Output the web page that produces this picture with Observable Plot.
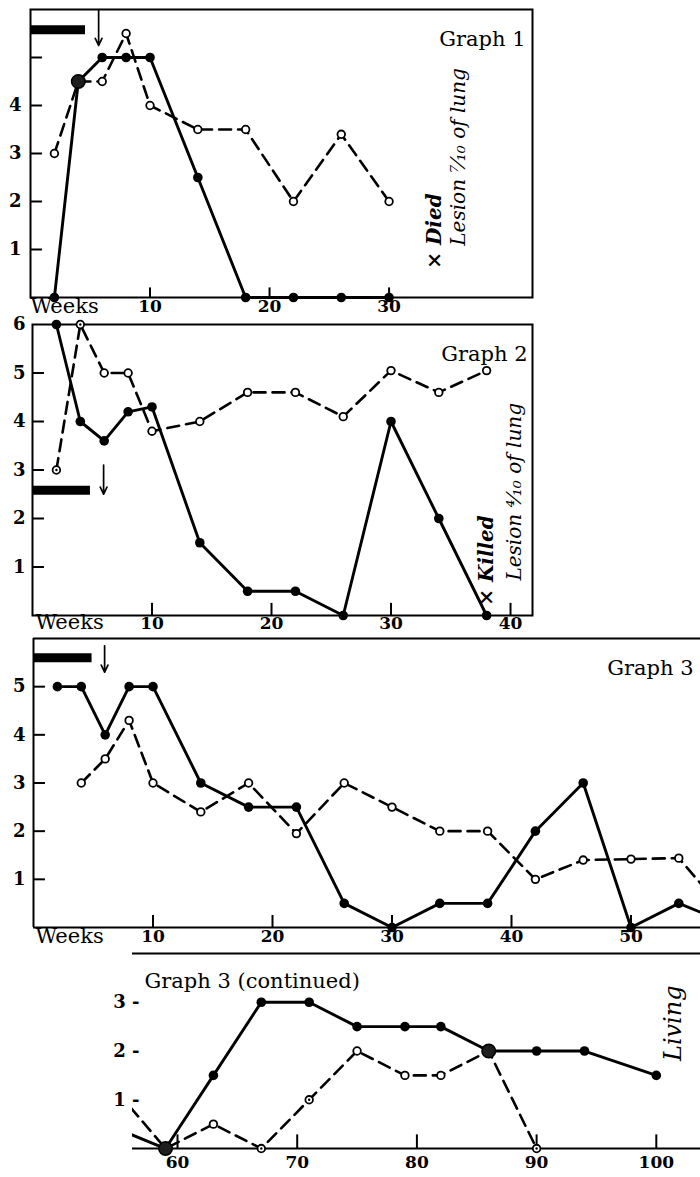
<!DOCTYPE html>
<html><head><meta charset="utf-8">
<script src="https://cdn.jsdelivr.net/npm/d3@7"></script>
<script src="https://cdn.jsdelivr.net/npm/@observablehq/plot@0.6"></script>
<style>
html,body{margin:0;padding:0;background:#fff;}
#fig{position:relative;width:700px;height:1177px;overflow:hidden;background:#fff;}
</style></head><body><div id="fig"></div>
<script>
// ---------------- data ----------------
// Graph 1
const g1Weeks = [2,4,6,8,10,14,18,22,26,30];
const g1Solid = [0,4.5,5,5,5,2.5,0,0,0,0];
const g1Open  = [3,4.5,4.5,5.5,4,3.5,3.5,2,3.4,2];
// Graph 2
const g2Weeks = [2,4,6,8,10,14,18,22,26,30,34,38];
const g2Solid = [6,4,3.6,4.2,4.3,1.5,0.5,0.5,0,4,2,0];
const g2Open  = [3,6,5,5,3.8,4,4.6,4.6,4.1,5.05,4.6,5.05];
const g2Dotted = [2,4];
// Graph 3 and Graph 3 (continued)
const g3SolidWeeks = [2,4,6,8,10,14,18,22,26,30,34,38,42,46,50,54,59,63,67,71,75,79,82,86,90,94,100];
const g3Solid      = [5,5,4,5,5,3,2.5,2.5,0.5,0,0.5,0.5,2,3,0,0.5,0,1.5,3,3,2.5,2.5,2.5,2,2,2,1.5];
const g3OpenWeeks  = [4,6,8,10,14,18,22,26,30,34,38,42,46,50,54,59,63,67,71,75,79,82,86,90];
const g3Open       = [3,3.5,4.3,3,2.4,3,1.95,3,2.5,2,2,1,1.4,1.42,1.44,0,0.5,0,1,2,1.5,1.5,2,0];
const g3Dotted = [67,71,90];
// treatment bars (end week, level) and arrows (week, from, to)
const barEnd   = [4.6, 4.85, 4.9];
const barLevel = [5.58, 2.58, 5.6];
const arrowWeek = [5.7, 5.95, 5.95];
const arrowFrom = [6.0, 3.1, 5.85];
const arrowTo   = [5.25, 2.5, 5.3];
// ticks
const g1XTicks = [10,20,30], g1YTicks = [1,2,3,4,5], g1YLabels = [1,2,3,4];
const g2XTicks = [10,20,30,40], g2YTicks = [1,2,3,4,5], g2YLabels = [1,2,3,4,5,6];
const g3XTicks = [10,20,30,40,50], g3YTicks = [1,2,3,4,5], g3YLabels = [1,2,3,4,5];
const g4XTicks = [60,70,80,90,100], g4YLabels = [1,2,3];

// ---------------- helpers ----------------
const W = 700;
const FONT = "'DejaVu Serif', serif";
const pairs = (weeks, vals) => weeks.map((w, i) => ({week: w, v: vals[i]}));
const solidStyle = {stroke: "black", strokeWidth: 2.9, strokeLinejoin: "round"};
const dashStyle = {stroke: "black", strokeWidth: 2.6, strokeDasharray: "12,7"};

function seriesMarks(solid, open, dotted, xr, lineFilter, clip) {
  const inX = d => d.week >= xr[0] && d.week <= xr[1];
  const overlaps = solid.filter(d => open.some(o => o.week === d.week && o.v === d.v));
  return [
    Plot.line(open.filter(lineFilter), {x: "week", y: "v", ...dashStyle, clip}),
    Plot.line(solid.filter(lineFilter), {x: "week", y: "v", ...solidStyle, clip}),
    Plot.dot(open.filter(inX), {x: "week", y: "v", r: 3.8, fill: "white", stroke: "black", strokeWidth: 1.8}),
    Plot.dot(open.filter(d => inX(d) && dotted.includes(d.week)), {x: "week", y: "v", r: 1.2, fill: "black"}),
    Plot.dot(solid.filter(inX), {x: "week", y: "v", r: 4.8, fill: "black"}),
    Plot.dot(overlaps.filter(inX), {x: "week", y: "v", r: 6.8, fill: "#1e1e1e", stroke: "black", strokeWidth: 1.5})
  ];
}
function treatMarks(i, x0) {
  return [
    Plot.ruleY([barLevel[i]], {y: d => d, x1: x0, x2: barEnd[i], stroke: "black", strokeWidth: 9}),
    Plot.arrow([i], {x1: d => arrowWeek[d], x2: d => arrowWeek[d], y1: d => arrowFrom[d], y2: d => arrowTo[d],
      stroke: "black", strokeWidth: 1.7, headLength: 7, headAngle: 50})
  ];
}
function axisMarks(xTicks, yTicks, yLabels, x0, opts = {}) {
  return [
    Plot.ruleY(yTicks, {y: d => d, x1: x0, x2: x0 + 1, stroke: "black", strokeWidth: 2}),
    Plot.ruleX(xTicks, {x: d => d, y1: 0, y2: opts.xTickLen ?? 0.25, stroke: "black", strokeWidth: 2}),
    Plot.text(yLabels, {y: d => d, frameAnchor: "left", dx: opts.yDx ?? -8, textAnchor: "end", text: d => String(d), fontSize: 18, fontWeight: "bold"}),
    Plot.text(xTicks, {x: d => d, frameAnchor: "bottom", dy: opts.xDy ?? 14, text: d => String(d), fontSize: 17, fontWeight: "bold"})
  ];
}
function panel({top, height, left, right, xDomain, yDomain, yTopPx, yBottomPx, marks}) {
  const svg = Plot.plot({
    width: W, height,
    marginLeft: left, marginRight: W - right,
    marginTop: yTopPx - top, marginBottom: top + height - yBottomPx,
    x: {domain: xDomain, axis: null},
    y: {domain: yDomain, axis: null},
    style: {position: "absolute", left: "0px", top: top + "px", background: "none",
            fontFamily: FONT, fontSize: "17px", color: "black", overflow: "visible"},
    marks
  });
  document.getElementById("fig").appendChild(svg);
}
const titleStyle = {fontSize: 21, letterSpacing: "1.8px", fill: "black"};
const italic = {fontStyle: "italic", fontSize: 20, rotate: -90, textAnchor: "start", fill: "black"};

// ---------------- Graph 1 ----------------
const s1 = pairs(g1Weeks, g1Solid), o1 = pairs(g1Weeks, g1Open);
panel({
  top: 0, height: 335, left: 30, right: 532,
  xDomain: [0, 42], yDomain: [0, 6], yTopPx: 9, yBottomPx: 297,
  marks: [
    Plot.frame({stroke: "black", strokeWidth: 2}),
    ...axisMarks(g1XTicks, g1YTicks, g1YLabels, 0, {xTickLen: 0.2, yDx: -9}),
    ...treatMarks(0, 0),
    ...seriesMarks(s1, o1, [], [0, 42], () => true, false),
    Plot.text(["Graph 1"], {frameAnchor: "top-right", dx: -7, dy: 22, textAnchor: "end", ...titleStyle}),
    Plot.text(["Weeks"], {frameAnchor: "bottom-left", dx: 0, dy: 15, textAnchor: "start", fontSize: 21}),
    Plot.text(["× Died"], {x: 33.8, y: 0.6, ...italic, fontWeight: "bold"}),
    Plot.text(["Lesion ⁷⁄₁₀ of lung"], {x: 35.8, y: 1.08, ...italic})
  ]
});

// ---------------- Graph 2 ----------------
const s2 = pairs(g2Weeks, g2Solid), o2 = pairs(g2Weeks, g2Open);
panel({
  top: 318, height: 335, left: 32, right: 532,
  xDomain: [0, 41.84], yDomain: [0, 6], yTopPx: 324, yBottomPx: 615,
  marks: [
    Plot.frame({stroke: "black", strokeWidth: 2}),
    ...axisMarks(g2XTicks, g2YTicks, g2YLabels, 0, {yDx: -7, xDy: 13}),
    ...treatMarks(1, 0),
    ...seriesMarks(s2, o2, g2Dotted, [0, 42], () => true, false),
    Plot.text(["Graph 2"], {frameAnchor: "top-right", dx: -5, dy: 22, textAnchor: "end", ...titleStyle}),
    Plot.text(["Weeks"], {frameAnchor: "bottom-left", dx: 3, dy: 13, textAnchor: "start", fontSize: 21}),
    Plot.text(["× Killed"], {x: 38.0, y: 0.2, ...italic, fontWeight: "bold"}),
    Plot.text(["Lesion ⁴⁄₁₀ of lung"], {x: 40.3, y: 0.72, ...italic})
  ]
});

// ---------------- Graph 3 ----------------
const s3 = pairs(g3SolidWeeks, g3Solid), o3 = pairs(g3OpenWeeks, g3Open);
const g3Right = (700 - 33) / 11.95;
panel({
  top: 630, height: 330, left: 33, right: 700,
  xDomain: [0, g3Right], yDomain: [0, 6], yTopPx: 638, yBottomPx: 927,
  marks: [
    Plot.ruleY([6], {stroke: "black", strokeWidth: 2}),
    Plot.ruleY([0], {stroke: "black", strokeWidth: 2}),
    Plot.ruleX([0], {y1: 0, y2: 6, stroke: "black", strokeWidth: 2}),
    ...axisMarks(g3XTicks, g3YTicks, g3YLabels, 0, {yDx: -8}),
    ...treatMarks(2, 0),
    ...seriesMarks(s3, o3, g3Dotted, [0, g3Right], d => d.week <= 59, false),
    Plot.text(["Graph 3"], {frameAnchor: "top-right", dx: -7, dy: 22, textAnchor: "end", ...titleStyle}),
    Plot.text(["Weeks"], {frameAnchor: "bottom-left", dx: 2, dy: 15, textAnchor: "start", fontSize: 21})
  ]
});

// ---------------- Graph 3 (continued) ----------------
const g4Left = 56.24, g4Right = 56.24 + (700 - 132) / 11.97;
panel({
  top: 945, height: 232, left: 132, right: 700,
  xDomain: [g4Left, g4Right], yDomain: [-0.15, 4], yTopPx: 953, yBottomPx: 1155.35,
  marks: [
    Plot.ruleY([4], {stroke: "black", strokeWidth: 2}),
    Plot.ruleY([0], {stroke: "black", strokeWidth: 2}),
    Plot.ruleX(g4XTicks, {x: d => d, y1: 0, y2: 0.28, stroke: "black", strokeWidth: 2}),
    Plot.text(g4YLabels, {y: d => d, frameAnchor: "left", dx: 7, textAnchor: "end", text: d => `${d} -`, fontSize: 18, fontWeight: "bold"}),
    Plot.text(g4XTicks, {x: d => d, frameAnchor: "bottom", dy: 12, text: d => String(d), fontSize: 17, fontWeight: "bold"}),
    ...seriesMarks(s3, o3, g3Dotted, [g4Left, g4Right], d => d.week >= 54, true),
    Plot.text(["Graph 3 (continued)"], {frameAnchor: "top-left", dx: 12, dy: 20, textAnchor: "start", ...titleStyle}),
    Plot.text(["Living"], {x: 101.4, y: 2.57, fontStyle: "italic", fontSize: 24, rotate: -90, textAnchor: "middle", fill: "black"})
  ]
});
</script></body></html>
